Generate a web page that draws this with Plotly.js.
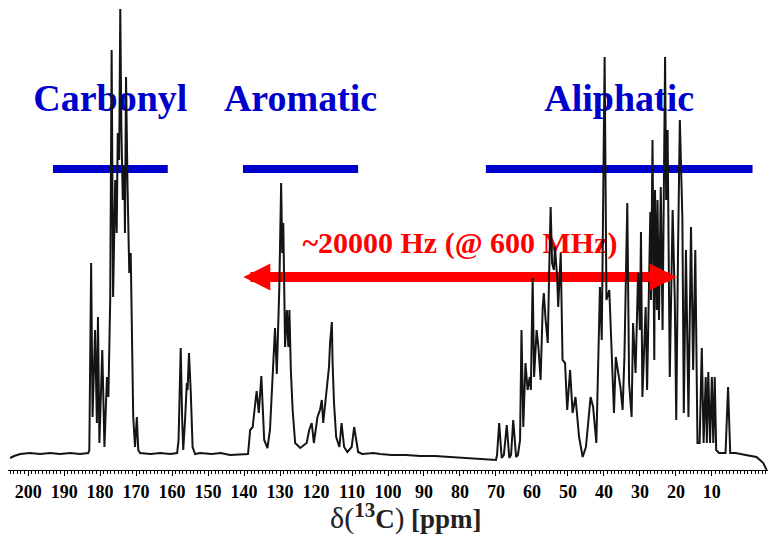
<!DOCTYPE html>
<html><head><meta charset="utf-8">
<script src="https://cdn.plot.ly/plotly-3.0.1.min.js"></script>
<style>html,body{margin:0;padding:0;background:#fff}#chart{width:775px;height:534px}</style>
</head><body><div id="chart"></div>
<script>
// ---- data (ppm, relative intensity) ----
const ppm = [205.0,203.9,202.2,199.5,196.7,193.9,191.1,188.3,185.6,183.3,183.0,182.5,182.1,181.4,180.9,180.6,180.2,179.7,179.4,178.8,178.1,177.7,177.2,176.8,176.4,175.8,175.4,175.1,174.7,174.4,174.1,173.7,173.3,173.1,172.8,172.4,172.1,171.9,171.5,171.2,170.8,170.3,169.8,169.4,168.9,166.0,163.3,160.5,158.6,158.2,157.6,157.2,156.9,156.4,155.9,155.7,155.3,154.8,154.3,153.6,152.2,149.0,146.5,143.9,141.0,138.9,138.3,137.6,137.1,136.5,135.9,135.2,134.4,133.5,132.8,132.3,131.7,131.4,130.9,130.2,129.7,129.4,129.1,128.6,128.1,127.7,127.4,127.0,126.5,125.8,124.4,122.6,121.9,121.2,120.6,119.6,118.9,118.4,118.0,117.0,116.4,116.1,115.6,115.4,115.0,114.4,113.5,112.9,112.2,111.3,110.1,109.4,108.9,108.3,107.2,104.0,102.2,99.0,95.0,91.1,87.0,83.0,80.0,76.0,71.7,70.0,69.7,69.1,68.4,67.8,67.0,66.3,65.8,65.2,64.4,63.9,63.3,62.9,62.4,61.8,61.2,60.6,60.3,59.8,59.4,58.7,58.2,57.6,57.0,56.7,56.2,55.6,55.2,54.8,54.4,53.9,53.6,53.0,52.7,52.0,51.5,50.8,50.2,49.4,48.7,47.9,46.9,45.9,45.0,43.7,43.0,42.1,41.1,40.6,39.8,39.3,38.5,37.9,37.2,36.7,36.0,35.4,34.8,34.3,33.5,33.0,32.3,31.9,31.2,30.5,30.0,29.7,29.3,28.4,28.0,27.1,26.9,26.5,26.0,25.8,25.3,25.1,24.7,24.2,23.7,23.0,22.7,22.3,21.7,20.9,20.3,19.9,19.4,18.9,18.2,17.8,17.2,16.5,15.8,15.2,14.6,14.3,14.0,13.4,12.8,12.3,11.7,11.4,11.0,10.5,10.0,9.6,9.2,8.8,8.0,6.2,5.5,4.9,3.4,0.6,-2.4,-4.3,-5.2];
const intensity = [-4,-2,0,1,0,1,0,1,0,1,4,191,37,124,31,137,11,87,104,7,77,57,154,404,157,274,221,321,294,445,327,254,287,221,377,271,204,181,201,121,37,7,37,4,1,0,1,0,1,14,106,34,4,34,71,64,101,61,7,0,1,0,1,-1,0,0,24,27,44,63,41,78,14,6,24,57,97,126,80,167,271,201,231,107,144,107,144,84,44,11,6,11,24,31,11,37,44,54,31,71,87,111,132,91,51,17,7,31,7,2,7,27,17,2,0,1,0,-1,-1,-2,-2,-3,-4,-5,-6,-6,-1,31,-4,-1,29,-4,-1,34,-3,-1,14,124,27,91,64,77,64,176,77,124,107,74,147,161,134,111,184,247,191,184,207,177,147,201,94,91,44,84,41,57,17,-3,7,57,47,11,167,114,397,154,164,114,41,97,81,67,44,97,251,71,37,131,81,181,124,222,57,147,64,242,154,314,94,264,144,254,134,267,124,397,254,324,77,244,154,34,204,334,237,41,204,37,227,84,204,114,11,11,106,11,77,11,82,11,77,11,77,4,1,1,67,1,1,-1,-3,-9,-16];

const regionNames = ['Carbonyl', 'Aromatic', 'Aliphatic'];
const regionStart = [193.1, 140.3, 72.8];
const regionEnd = [161.2, 108.3, -1.3];

const arrowFrom = 140.2;   // ppm, left tip
const arrowTo = 19.8;      // ppm, right tip
const arrowLabel = '~20000 Hz (@ 600 MHz)';

const tickValues = [200,190,180,170,160,150,140,130,120,110,100,90,80,70,60,50,40,30,20,10];
const tickLabels = tickValues.map(String);

// ---- layout / style constants ----
const W = 775, H = 534;
const M = {l: 8, r: 7, t: 0, b: 64};
const X_RANGE = [205.6, -5.6];
const Y_RANGE = [-16, 454];
const pxPerPpm = (W - M.l - M.r) / (X_RANGE[0] - X_RANGE[1]);
const BLUE = '#0000cc', RED = '#ff0000';
const SERIF = '"Liberation Serif", "Times New Roman", serif';
const barY = 285, labelY = 353, arrowY = 177, arrowTextY = 209;
const headLenPx = 25;
const headPpm = headLenPx / pxPerPpm;

const centers = regionStart.map((s, i) => (s + regionEnd[i]) / 2);

const traces = [
  { // region labels
    x: centers, y: centers.map(() => labelY), mode: 'text', text: regionNames,
    textposition: 'middle center', hoverinfo: 'skip',
    textfont: {family: SERIF, size: 38, color: BLUE, weight: 'bold'}
  },
  { // arrow label
    x: [(arrowFrom + arrowTo) / 2], y: [arrowTextY], mode: 'text', text: [arrowLabel],
    textposition: 'middle center', hoverinfo: 'skip',
    textfont: {family: SERIF, size: 30, color: RED, weight: 'bold'}
  },
  { // arrow shaft
    x: [arrowFrom - headPpm, arrowTo + headPpm], y: [arrowY, arrowY], mode: 'lines',
    line: {color: RED, width: 10}, hoverinfo: 'skip'
  },
  { // spectrum
    x: ppm, y: intensity, mode: 'lines',
    line: {color: '#141414', width: 2}
  }
];

const shapes = regionStart.map((s, i) => ({
  type: 'line', layer: 'below', xref: 'x', yref: 'y',
  x0: s, x1: regionEnd[i], y0: barY, y1: barY,
  line: {color: BLUE, width: 8}
}));

const headCommon = {
  xref: 'x', yref: 'y', y: arrowY, ay: 0, text: '', showarrow: true,
  arrowhead: 2, arrowsize: 0.54, arrowwidth: 10, arrowcolor: RED, standoff: 0
};
const annotations = [
  Object.assign({}, headCommon, {x: arrowFrom, ax: 30}),
  Object.assign({}, headCommon, {x: arrowTo, ax: -30}),
  {
    xref: 'paper', yref: 'paper', x: 0.524, y: -0.098, xanchor: 'center', yanchor: 'middle',
    showarrow: false,
    text: '<span style="font-size:30px">δ(</span><b><sup><span style="font-size:21px">13</span></sup>C</b><span style="font-size:29px">)</span> <b>[ppm]</b>',
    font: {family: SERIF, size: 27, color: '#222'}
  }
];

const layout = {
  width: W, height: H, margin: M, showlegend: false,
  paper_bgcolor: '#fff', plot_bgcolor: '#fff',
  xaxis: {
    range: X_RANGE, tickmode: 'array', tickvals: tickValues, ticktext: tickLabels,
    ticks: 'outside', ticklen: 5, tickwidth: 1, tickcolor: '#000',
    showline: true, linecolor: '#000', linewidth: 1.2,
    showgrid: false, zeroline: false,
    tickfont: {family: SERIF, size: 18, color: '#000', weight: 'bold'},
    minor: {tickmode: 'linear', tick0: 0, dtick: 1, ticks: 'outside', ticklen: 2.5, tickwidth: 1, tickcolor: '#000', showgrid: false}
  },
  yaxis: {range: Y_RANGE, visible: false, showgrid: false, zeroline: false},
  shapes: shapes,
  annotations: annotations
};

Plotly.newPlot('chart', traces, layout, {displayModeBar: false, staticPlot: true});
</script>
</body></html>
